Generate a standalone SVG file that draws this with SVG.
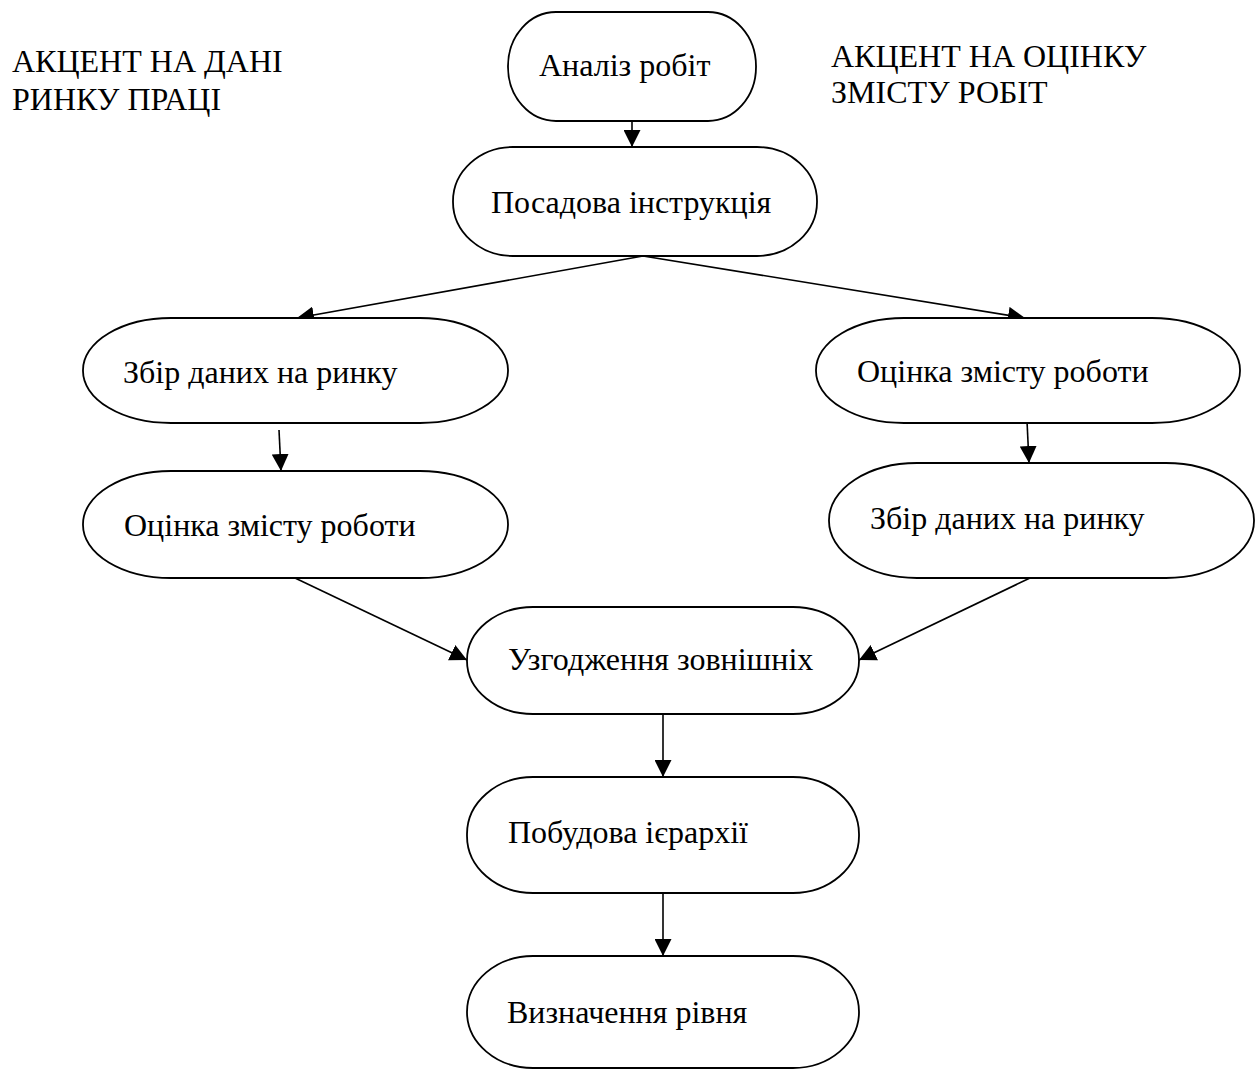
<svg xmlns="http://www.w3.org/2000/svg" width="1260" height="1071" viewBox="0 0 1260 1071">
<style>
.n{fill:#fff;stroke:#000;stroke-width:1.8}
.t{font-family:"Liberation Serif","Times New Roman",serif;font-size:32px;fill:#000}
.c{stroke:#000;stroke-width:1.6;fill:none;marker-end:url(#ah)}
</style>
<defs>
<marker id="ah" markerUnits="userSpaceOnUse" markerWidth="17" markerHeight="17" viewBox="0 0 17 17" refX="17" refY="8.5" orient="auto">
<path d="M0,0 L17,8.5 L0,17 Z" fill="#000"/>
</marker>
</defs>
<rect width="1260" height="1071" fill="#fff"/>
<g id="label-left">
<text class="t" x="12" y="72">АКЦЕНТ НА ДАНІ</text>
<text class="t" x="12" y="110">РИНКУ ПРАЦІ</text>
</g>
<g id="label-right">
<text class="t" x="831" y="67">АКЦЕНТ НА ОЦІНКУ</text>
<text class="t" x="831" y="103">ЗМІСТУ РОБІТ</text>
</g>
<g id="connectors">
<line class="c" x1="632" y1="121" x2="632" y2="147"/>
<line class="c" x1="643" y1="256" x2="297" y2="318"/>
<line class="c" x1="643" y1="256" x2="1025" y2="318"/>
<line class="c" x1="279" y1="430" x2="281" y2="471"/>
<line class="c" x1="1027" y1="421" x2="1029" y2="463"/>
<line class="c" x1="295" y1="578" x2="467" y2="660"/>
<line class="c" x1="1030" y1="578" x2="859" y2="660"/>
<line class="c" x1="663" y1="710" x2="663" y2="777"/>
<line class="c" x1="663" y1="893" x2="663" y2="956"/>
</g>
<g id="node-analiz">
<rect class="n" x="508" y="12" width="248" height="109" rx="48" ry="54"/>
<text class="t" x="539" y="76">Аналіз робіт</text>
</g>
<g id="node-posadova">
<rect class="n" x="453" y="147" width="364" height="109" rx="60" ry="54"/>
<text class="t" x="491" y="213">Посадова інструкція</text>
</g>
<g id="node-zbir-left">
<rect class="n" x="83" y="318" width="425" height="105" rx="88" ry="52"/>
<text class="t" x="123" y="383">Збір даних на ринку</text>
</g>
<g id="node-otsinka-left">
<rect class="n" x="83" y="471" width="425" height="107" rx="88" ry="53"/>
<text class="t" x="124" y="536">Оцінка змісту роботи</text>
</g>
<g id="node-otsinka-right">
<rect class="n" x="816" y="318" width="424" height="105" rx="88" ry="52"/>
<text class="t" x="857" y="382">Оцінка змісту роботи</text>
</g>
<g id="node-zbir-right">
<rect class="n" x="829" y="463" width="425" height="115" rx="88" ry="57"/>
<text class="t" x="870" y="529">Збір даних на ринку</text>
</g>
<g id="node-uzgodzhennia">
<rect class="n" x="467" y="607" width="392" height="107" rx="66" ry="53"/>
<text class="t" x="508" y="670">Узгодження зовнішніх</text>
</g>
<g id="node-pobudova">
<rect class="n" x="467" y="777" width="392" height="116" rx="66" ry="57"/>
<text class="t" x="508" y="843">Побудова ієрархії</text>
</g>
<g id="node-vyznachennia">
<rect class="n" x="467" y="956" width="392" height="112" rx="66" ry="56"/>
<text class="t" x="507" y="1023">Визначення рівня</text>
</g>
</svg>
